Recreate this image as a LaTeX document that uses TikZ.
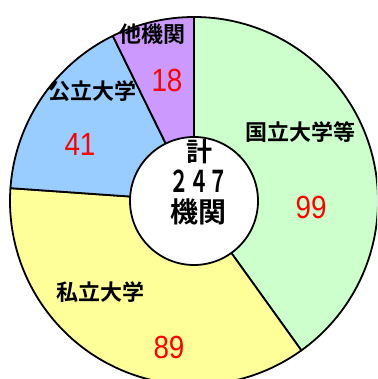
\documentclass[tikz,border=0pt]{standalone}
\usepackage{fontspec}
\setmainfont{Liberation Sans}
\newfontfamily\jpfont[BoldFont={Noto Sans CJK JP Bold}]{Noto Sans CJK JP}
\definecolor{kokuritsu}{HTML}{CCFFCC}
\definecolor{shiritsu}{HTML}{FFFF99}
\definecolor{kouritsu}{HTML}{99CCFF}
\definecolor{sonota}{HTML}{CC99FF}
\begin{document}
\begin{tikzpicture}[x=1pt,y=1pt,
    wedge/.style={draw=black,line width=1.8pt,line join=round},
    kind/.style={font=\jpfont\bfseries\fontsize{22}{22}\selectfont,inner sep=0pt},
    count/.style={text=red,font=\fontsize{32}{32}\selectfont,xscale=0.87,transform shape,inner sep=0pt},
    total/.style={font=\jpfont\bfseries\fontsize{28}{28}\selectfont,inner sep=0pt}]
  \useasboundingbox (0,0) rectangle (377,379);
  \clip (0,0) rectangle (377,379);
  \coordinate (c) at (194,178);
  % wedges, clockwise from the top
  \draw[wedge,fill=kokuritsu] (c) -- ++(90:184) arc[start angle=90,end angle=-54.3,radius=184] -- cycle;
  \draw[wedge,fill=shiritsu] (c) -- ++(-54.3:184) arc[start angle=-54.3,end angle=-184,radius=184] -- cycle;
  \draw[wedge,fill=kouritsu] (c) -- ++(176:184) arc[start angle=176,end angle=116.2,radius=184] -- cycle;
  \draw[wedge,fill=sonota] (c) -- ++(116.2:184) arc[start angle=116.2,end angle=90,radius=184] -- cycle;
  \draw[wedge,fill=white] (c) circle[radius=64];
  % labels
  \node[kind] (taname) at (152,345) {他機関};
  \node[count] (tanum) at (167,299) {18};
  \node[kind] (kouname) at (92,288) {公立大学};
  \node[count] (kounum) at (80,235) {41};
  \node[kind] (kokuname) at (300,247) {国立大学等};
  \node[count] (kokunum) at (311,172) {99};
  \node[kind] (shiname) at (100,87) {私立大学};
  \node[count] (shinum) at (169,32) {89};
  % total in the middle
  \node[total,font=\jpfont\bfseries\fontsize{26}{26}\selectfont] (kei) at (199,227) {計};
  \node[inner sep=0pt,font=\jpfont\bfseries\fontsize{30}{30}\selectfont,xscale=0.65,transform shape] (sum) at (199,198) {２４７};
  \node[total] (kikan) at (198,167) {機関};
\end{tikzpicture}
\end{document}
